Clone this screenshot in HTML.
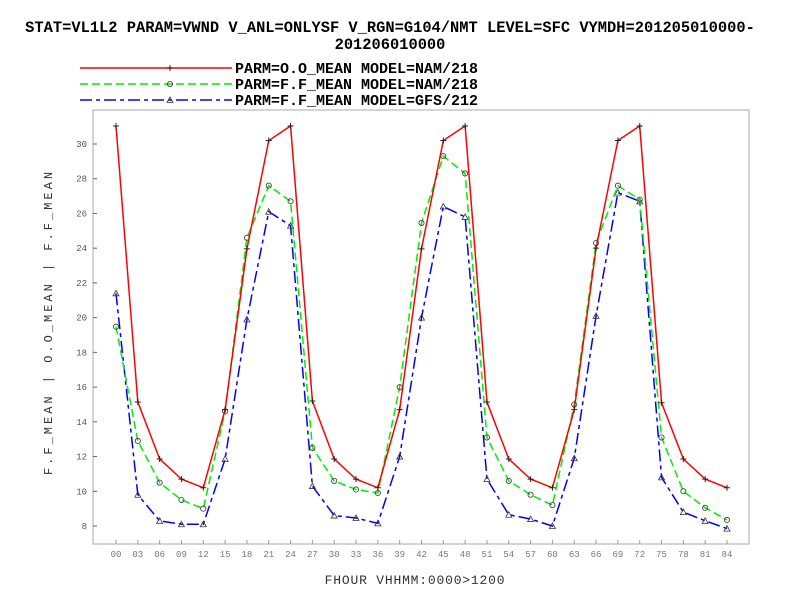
<!DOCTYPE html>
<html><head><meta charset="utf-8"><style>
body{margin:0;background:#fff;}
svg{display:block;font-family:"Liberation Mono",monospace;}
</style></head><body>
<svg id="chart" width="792" height="612" viewBox="0 0 792 612">
<text x="390" y="32" text-anchor="middle" font-size="15.4" font-weight="bold">STAT=VL1L2 PARAM=VWND V_ANL=ONLYSF V_RGN=G104/NMT LEVEL=SFC VYMDH=201205010000-</text>
<text x="390" y="49" text-anchor="middle" font-size="15.4" font-weight="bold">201206010000</text>
<g id="legend"></g>
<rect x="93" y="110" width="656" height="434" fill="none" stroke="#aaa" stroke-width="1"/>
<g id="axes"></g>
<g id="series"></g>
<text transform="translate(52,322) rotate(-90)" text-anchor="middle" font-size="12" fill="#333" letter-spacing="3">F.F_MEAN | O.O_MEAN | F.F_MEAN</text>
<text x="415" y="584" text-anchor="middle" font-size="13" fill="#333" letter-spacing="0.8">FHOUR VHHMM:0000&gt;1200</text>
</svg>
<script>
const categories=["00","03","06","09","12","15","18","21","24","27","30","33","36","39","42","45","48","51","54","57","60","63","66","69","72","75","78","81","84"];
const yTicks=[8,10,12,14,16,18,20,22,24,26,28,30];
const obsMeanNam=[31.04,15.14,11.86,10.7,10.2,14.7,23.96,30.2,31.04,15.2,11.86,10.7,10.2,14.7,23.96,30.2,31.04,15.14,11.86,10.7,10.2,14.7,24.0,30.2,31.04,15.1,11.86,10.7,10.2];
const fcstMeanNam=[19.48,12.9,10.5,9.5,9.0,14.6,24.6,27.6,26.7,12.5,10.6,10.1,9.9,16.0,25.45,29.3,28.3,13.1,10.6,9.8,9.2,15.0,24.3,27.6,26.8,13.1,10.0,9.05,8.35];
const fcstMeanGfs=[21.4,9.8,8.3,8.1,8.1,11.86,19.9,26.1,25.3,10.3,8.6,8.46,8.15,12.0,20.0,26.4,25.8,10.7,8.65,8.4,8.0,11.9,20.1,27.2,26.7,10.8,8.8,8.3,7.85];
const legendLabels=["PARM=O.O_MEAN MODEL=NAM/218","PARM=F.F_MEAN MODEL=NAM/218","PARM=F.F_MEAN MODEL=GFS/212"];
const NS="http://www.w3.org/2000/svg";
const x=i=>116+i*(727-116)/28;
const y=v=>526-(v-8)*(526-144)/22;
function mk(tag,attrs,parent){const e=document.createElementNS(NS,tag);for(const k in attrs)e.setAttribute(k,attrs[k]);parent.appendChild(e);return e;}
const axes=document.getElementById('axes');
yTicks.forEach(t=>{
  const l=mk('line',{x1:93,x2:97,y1:y(t),y2:y(t),stroke:'#666'},axes);
  
  
  const tx=mk('text',{x:87,y:y(t)+3,'text-anchor':'end','font-size':9,fill:'#555'},axes);
  
  
  tx.textContent=t;
});
categories.forEach((c,i)=>{
  const l=mk('line',{x1:x(i),x2:x(i),y1:544,y2:540,stroke:'#999'},axes);
  
  
  const tx=mk('text',{x:x(i),y:557,'text-anchor':'middle','font-size':9,fill:'#777'},axes);
  
  
  tx.textContent=c;
});
const styles=[
 {data:obsMeanNam,color:'#f00',dash:'',marker:'plus',name:'series-obs-mean-nam'},
 {data:fcstMeanNam,color:'#0e0',dash:'8,4',marker:'circle',name:'series-fcst-mean-nam'},
 {data:fcstMeanGfs,color:'#00f',dash:'12,4,4,4',marker:'tri',name:'series-fcst-mean-gfs'}
];
function marker(type,cx,cy,g){
  let m;
  if(type==='plus'){m=mk('path',{d:`M${cx-3} ${cy}H${cx+3}M${cx} ${cy-3}V${cy+3}`,stroke:'#222','stroke-width':1,fill:'none'},g);}
  else if(type==='circle'){m=mk('circle',{cx:cx,cy:cy,r:2.6,stroke:'#333','stroke-width':0.8,fill:'none'},g);}
  else {m=mk('path',{d:`M${cx} ${cy-3}L${cx+3} ${cy+2.5}L${cx-3} ${cy+2.5}Z`,stroke:'#333','stroke-width':0.8,fill:'none'},g);}
  
  
}
const sg=document.getElementById('series');
styles.slice().reverse().forEach(s=>{
  const g=mk('g',{},sg);
  
  
  const p=mk('polyline',{points:s.data.map((v,i)=>x(i)+','+y(v)).join(' '),fill:'none',stroke:s.color,'stroke-width':1.5,'stroke-dasharray':s.dash},g);
  
  
  s.data.forEach((v,i)=>marker(s.marker,x(i),y(v),g));
});
const lg=document.getElementById('legend');
styles.forEach((s,i)=>{
  const yy=68+i*16;
  const l=mk('line',{x1:80,x2:232,y1:yy,y2:yy,stroke:s.color,'stroke-width':1.5,'stroke-dasharray':s.dash},lg);
  
  
  marker(s.marker,170,yy,lg);
  const t=mk('text',{x:235,y:yy+5,'font-size':15,'font-weight':'bold'},lg);
  
  
  t.textContent=legendLabels[i];
});
</script>
</body></html>
